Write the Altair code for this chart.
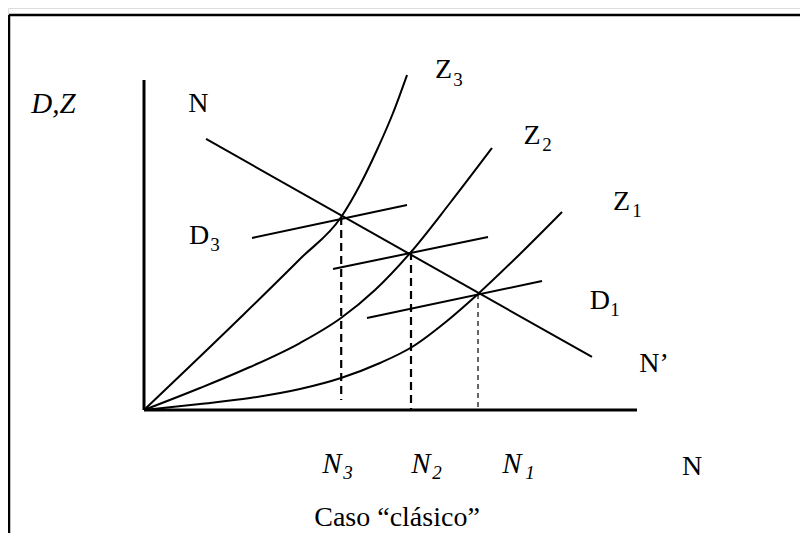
import altair as alt
import pandas as pd

# ---------------- data (economic units: N on x, D/Z on y) ----------------
z3_n = [0, 1.947, 3.164, 4.0, 4.381, 4.726, 5.051, 5.335]
z3_v = [0, 2.230, 3.661, 4.679, 5.455, 6.303, 7.200, 8.121]

z2_n = [0, 1.136, 2.150, 3.164, 3.996, 4.686, 5.416, 6.207, 7.059]
z2_v = [0, 0.533, 1.042, 1.624, 2.230, 2.909, 3.830, 5.018, 6.352]

z1_n = [0, 1.136, 2.150, 3.164, 3.996, 4.787, 5.436, 6.146, 6.775, 7.627, 8.479]
z1_v = [0, 0.145, 0.291, 0.509, 0.776, 1.139, 1.527, 2.158, 2.812, 3.782, 4.800]

# straight lines: N-N' and D3, D2, D1 (start/end)
seg_names = ["NN", "D3", "D2", "D1"]
seg_n1 = [1.258, 2.191, 3.834, 4.523]
seg_v1 = [6.570, 4.170, 3.418, 2.230]
seg_n2 = [9.087, 5.335, 6.978, 8.073]
seg_v2 = [1.285, 4.970, 4.194, 3.127]

# equilibrium employment levels N3, N2, N1 and the heights of intersections
eq_names = ["N3", "N2", "N1"]
eq_n = [4.0, 5.416, 6.775]
eq_top = [4.679, 3.830, 2.812]
eq_bottom = [0.242, 0.0, 0.0]

# axes extents
x_axis_end = 10.0
y_axis_end = 8.0

# labels
main_txt = ["N", "Z", "Z", "Z", "D", "D", "N\u2019", "N", "Caso \u201cclásico\u201d"]
main_n = [1.105, 6.075, 7.870, 9.686, 1.116, 9.249, 10.345, 11.116, 5.132]
main_v = [7.418, 8.242, 6.642, 5.042, 4.218, 2.642, 1.115, -1.382, -2.618]

sub_txt = ["3", "2", "1", "3", "1"]
sub_n = [6.369, 8.174, 10.000, 1.440, 9.553]
sub_v = [8.000, 6.424, 4.824, 4.000, 2.424]

ital_txt = ["D,Z", "N", "N", "N"]
ital_n = [-1.836, 3.813, 5.619, 7.465]
ital_v = [7.418, -1.309, -1.309, -1.309]

isub_txt = ["3", "2", "1"]
isub_n = [4.138, 5.943, 7.829]
isub_v = [-1.527, -1.527, -1.527]

# ---------------- layout ----------------
W, H = 792, 525
PX_X, PX_Y = 49.3, 41.25
XMIN = -(144 - 8) / PX_X
XMAX = XMIN + W / PX_X
YMAX = (410 - 8) / PX_Y
YMIN = YMAX - H / PX_Y
FRAME_X = (9 - 144) / PX_X
FRAME_Y = (410 - 15) / PX_Y

xs = alt.Scale(domain=[XMIN, XMAX], nice=False, zero=False)
ys = alt.Scale(domain=[YMIN, YMAX], nice=False, zero=False)
FONT = "Liberation Serif"

rows = []
for name, ns, vs in [("Z3", z3_n, z3_v), ("Z2", z2_n, z2_v), ("Z1", z1_n, z1_v)]:
    for i, (a, b) in enumerate(zip(ns, vs)):
        rows.append({"curve": name, "i": i, "n": a, "v": b})
curves = pd.DataFrame(rows)

segs = pd.DataFrame({"name": seg_names, "n": seg_n1, "v": seg_v1, "n2": seg_n2, "v2": seg_v2})
eqs = pd.DataFrame({"name": eq_names, "n": eq_n, "top": eq_top, "bottom": eq_bottom})
axes = pd.DataFrame({"n": [0, 0], "v": [0, 0], "n2": [x_axis_end, 0], "v2": [0, y_axis_end]})
frame = pd.DataFrame({"n": [FRAME_X, FRAME_X], "v": [FRAME_Y, FRAME_Y],
                      "n2": [FRAME_X, XMAX], "v2": [YMIN, FRAME_Y]})

X = lambda f="n": alt.X(f"{f}:Q", scale=xs, axis=None)
Y = lambda f="v": alt.Y(f"{f}:Q", scale=ys, axis=None)

curve_layer = alt.Chart(curves).mark_line(
    color="black", strokeWidth=2, interpolate="monotone", clip=False
).encode(x=X(), y=Y(), detail="curve:N", order="i:Q")

seg_layer = alt.Chart(segs).mark_rule(color="black", strokeWidth=2).encode(
    x=X(), y=Y(), x2="n2:Q", y2="v2:Q")

dash_thick = alt.Chart(eqs[eqs["name"] != "N1"]).mark_rule(
    color="black", strokeWidth=2.2, strokeDash=[8, 5]
).encode(x=X(), y=Y("top"), y2="bottom:Q")

dash_thin = alt.Chart(eqs[eqs["name"] == "N1"]).mark_rule(
    color="black", strokeWidth=1.2, strokeDash=[5, 4]
).encode(x=X(), y=Y("top"), y2="bottom:Q")

axis_layer = alt.Chart(axes).mark_rule(color="black", strokeWidth=3).encode(
    x=X(), y=Y(), x2="n2:Q", y2="v2:Q")

frame_layer = alt.Chart(frame).mark_rule(color="black", strokeWidth=2.5).encode(
    x=X(), y=Y(), x2="n2:Q", y2="v2:Q")


def text_layer(txt, ns, vs, size, italic):
    df = pd.DataFrame({"t": txt, "n": ns, "v": vs})
    kw = dict(font=FONT, fontSize=size, color="black", align="center", baseline="middle")
    if italic:
        kw["fontStyle"] = "italic"
    return alt.Chart(df).mark_text(**kw).encode(x=X(), y=Y(), text="t:N")


chart = alt.layer(
    frame_layer,
    axis_layer,
    curve_layer,
    seg_layer,
    dash_thick,
    dash_thin,
    text_layer(main_txt, main_n, main_v, 28, False),
    text_layer(sub_txt, sub_n, sub_v, 19, False),
    text_layer(ital_txt, ital_n, ital_v, 29, True),
    text_layer(isub_txt, isub_n, isub_v, 19, True),
).properties(
    width=W, height=H, autosize=alt.AutoSizeParams(type="none"), padding=0
).configure_view(stroke=None).configure(background="white")

chart.save("out.html", embed_options={"renderer": "svg", "actions": False})
